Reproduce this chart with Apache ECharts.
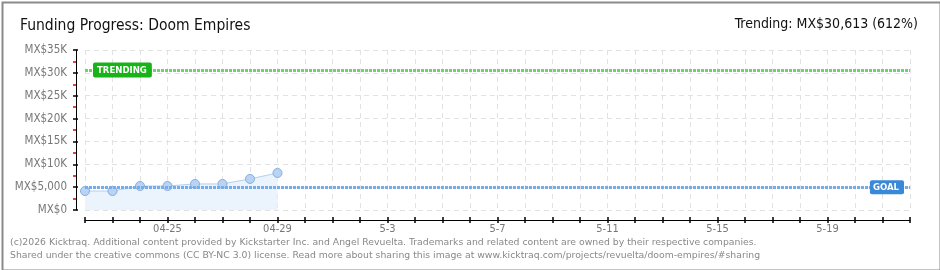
<!DOCTYPE html>
<html>
<head>
<meta charset="utf-8">
<script src="https://cdn.jsdelivr.net/npm/echarts@6/dist/echarts.min.js"></script>
<style>
html,body{margin:0;padding:0;background:#fff;}
#chart{width:940px;height:270px;}
</style>
</head>
<body>
<div id="chart"></div>
<script>
// ---- data ----
var dates = ['04-22','04-23','04-24','04-25','04-26','04-27','04-28','04-29','04-30',
  '5-1','5-2','5-3','5-4','5-5','5-6','5-7','5-8','5-9','5-10','5-11','5-12','5-13',
  '5-14','5-15','5-16','5-17','5-18','5-19','5-20','5-21','5-22'];
var pledged = [4150, 4150, 5250, 5250, 5700, 5700, 6800, 8100];
var goal = 5000;
var trending = 30613;
var yTickLabels = ['MX$0','MX$5,000','MX$10K','MX$15K','MX$20K','MX$25K','MX$30K','MX$35K'];
var titleText = 'Funding Progress: Doom Empires';
var trendText = 'Trending: MX$30,613 (612%)';
var footer1 = '(c)2026 Kicktraq. Additional content provided by Kickstarter Inc. and Angel Revuelta. Trademarks and related content are owned by their respective companies.';
var footer2 = 'Shared under the creative commons (CC BY-NC 3.0) license. Read more about sharing this image at www.kicktraq.com/projects/revuelta/doom-empires/#sharing';

var chart = echarts.init(document.getElementById('chart'), null, {renderer:'canvas'});
var axisFont = 'DejaVu Sans Condensed, DejaVu Sans, sans-serif';

var option = {
  animation: false,
  backgroundColor: '#fff',
  title: [
    {text: titleText, left: 15, top: 13,
     textStyle:{fontFamily:axisFont, fontSize:15.5, fontWeight:'normal', color:'#111'}},
    {text: trendText, right: 17, top: 12,
     textStyle:{fontFamily:axisFont, fontSize:14, fontWeight:'normal', color:'#111'}}
  ],
  grid: {left: 85, right: 30, top: 50, bottom: 60, containLabel: false, outerBoundsMode: 'none'},
  xAxis: [{
    type: 'category', data: dates, boundaryGap: false, position:'bottom', offset: 10,
    axisLine: {show:true, onZero:false, lineStyle:{color:'#000', width:1}},
    axisTick: {show:true, interval:0, length:3, lineStyle:{color:'#000', width:1.5}},
    axisLabel: {interval: function(i){ return i % 4 === 3; }, margin: 4,
      fontFamily: axisFont, fontSize: 11, color:'#777'},
    splitLine: {show:true, interval:0, lineStyle:{color:'#e2e2e2', type:[5,4], width:1}}
  },{
    type: 'category', data: dates, boundaryGap: false, position:'bottom', offset: 10,
    axisLine: {show:false, onZero:false},
    axisTick: {show:true, inside:true, interval:0, length:3, lineStyle:{color:'#000', width:1.5}},
    axisLabel: {show:false}, splitLine:{show:false}
  }],
  yAxis: [{
    type: 'value', min: 0, max: 35000, interval: 5000, offset: 9,
    name: 'PLEDGED', nameLocation: 'middle', nameGap: 78, nameRotate: 90,
    nameTextStyle: {fontFamily: axisFont, fontSize: 9, color:'#777'},
    axisLine: {show:true, lineStyle:{color:'#000', width:1}},
    axisTick: {show:true, length:3, lineStyle:{color:'#000', width:1.5}},
    minorTick: {show:true, splitNumber:2, length:3, lineStyle:{color:'#e00000', width:1.5}},
    axisLabel: {margin: 9, fontFamily: axisFont, fontSize: 11.5, color:'#777',
      formatter: function(v){ return yTickLabels[Math.round(v/5000)]; }},
    splitLine: {show:true, lineStyle:{color:'#e2e2e2', type:[5,4], width:1}}
  },{
    type: 'value', min: 0, max: 35000, interval: 5000, offset: 9, position:'left',
    axisLine: {show:false},
    axisTick: {show:true, inside:true, length:2, lineStyle:{color:'#000', width:1.5}},
    axisLabel: {show:false}, splitLine:{show:false}
  }],
  series: [{
    type: 'line', data: pledged, xAxisIndex: 0, yAxisIndex: 0,
    symbol: 'circle', symbolSize: 9,
    lineStyle: {color:'#b3d0f0', width:1},
    itemStyle: {color:'#b8d3f3', borderColor:'#86aee0', borderWidth:1},
    areaStyle: {color:'#ebf3fd', opacity:1},
    z: 3,
    markLine: {
      silent: true, symbol: ['none','none'],
      data: [
        {yAxis: trending,
         lineStyle:{color:'#6fd26f', type:[3,1], width:3},
         label:{show:true, position:'insideStart', distance:8, formatter:'TRENDING',
           color:'#fff', backgroundColor:'#18b318', borderRadius:2,
           padding:[3,5,2,4], fontFamily: axisFont, fontSize:9.5, fontWeight:'bold'}},
        {yAxis: goal,
         lineStyle:{color:'#78ace8', type:[3,1], width:3},
         label:{show:true, position:'insideEnd', distance:6, formatter:'GOAL',
           color:'#fff', backgroundColor:'#3a88d8', borderRadius:2,
           padding:[2,5,2,3], fontFamily: axisFont, fontSize:9.5, fontWeight:'bold'}}
      ]
    }
  }],
  graphic: [
    {type:'rect', left:0, top:0, shape:{x:0.5,y:0.5,width:938,height:268},
     style:{fill:'none', stroke:'#8a8a8a', lineWidth:2}, z:100},
    {type:'text', left:10, top:238, style:{text: footer1, fill:'#888',
      font:'9.3px "DejaVu Sans"'}},
    {type:'text', left:10, top:251, style:{text: footer2, fill:'#888',
      font:'9.3px "DejaVu Sans"'}}
  ]
};
chart.setOption(option);
</script>
</body>
</html>
